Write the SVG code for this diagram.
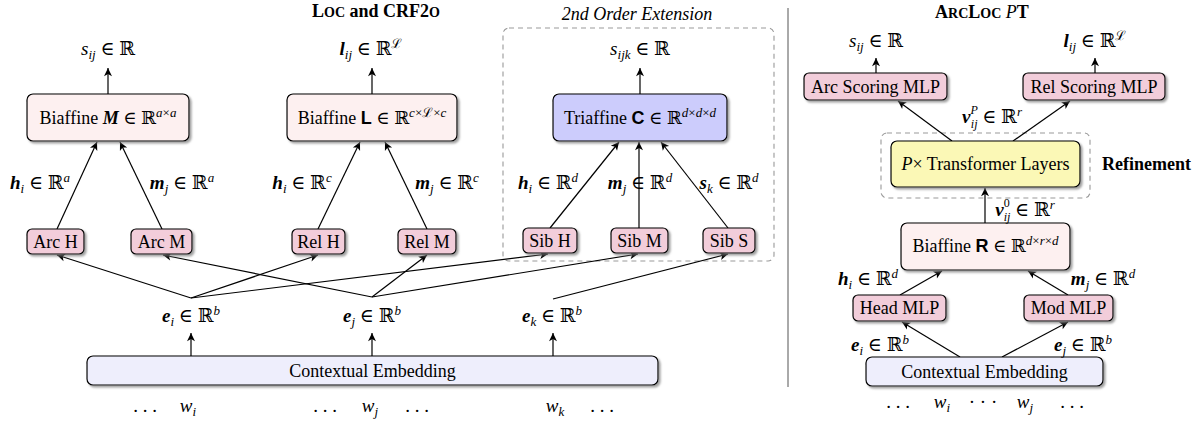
<svg xmlns="http://www.w3.org/2000/svg" width="1203" height="421" viewBox="0 0 1203 421">
<style>
text{font-family:"Liberation Serif","DejaVu Serif",serif;font-size:18px;fill:#000}
.m{font-size:19px}
.c{text-anchor:middle}
.bv{font-weight:bold;font-style:italic}
.it{font-style:italic}
.sb{font-size:13px}
.ss{font-size:12px}
.bs{font-family:"Liberation Sans","DejaVu Sans",sans-serif;font-weight:bold}
.ttl{font-weight:bold}
.box{stroke:#000;stroke-width:1.2;filter:url(#sh)}
.pk{fill:#f2cdda}
.lp{fill:#fdf0f0}
.bl{fill:#ccccfc}
.yl{fill:#fbf8b6}
.lv{fill:#eeeefc}
.dash{fill:none;stroke:#999;stroke-width:1.1;stroke-dasharray:5 4}
.ln{fill:none;stroke:#000;stroke-width:1.2}
.ar{marker-end:url(#ah)}
</style>
<defs>
<filter id="sh" x="-10%" y="-20%" width="125%" height="150%">
<feDropShadow dx="2" dy="2" stdDeviation="1" flood-color="#777" flood-opacity="0.7"/>
</filter>
<marker id="ah" markerWidth="10" markerHeight="10" viewBox="-7 -4 8 8" refX="0" refY="0" orient="auto" markerUnits="userSpaceOnUse">
<path d="M0,0 L-6.5,-3.2 L-4.8,0 L-6.5,3.2 Z" fill="#000"/>
</marker>
</defs>

<!-- titles -->
<text class="c ttl" x="376" y="17">L<tspan font-size="14">OC</tspan> and CRF2<tspan font-size="14">O</tspan></text>
<text class="c it" x="637" y="20">2nd Order Extension</text>
<text class="c ttl" x="982" y="18">A<tspan font-size="14">RC</tspan>L<tspan font-size="14">OC</tspan> <tspan class="it" font-weight="normal">P</tspan>T</text>
<line x1="788" y1="8" x2="788" y2="387" stroke="#555" stroke-width="1"/>

<!-- dashed groups -->
<rect class="dash" x="503" y="28" width="271" height="233" rx="6"/>
<rect class="dash" x="881" y="133" width="209" height="65" rx="6"/>

<!-- connectors -->
<g id="connectors">
<path class="ln ar" d="M108,94 L108,68"/>
<path class="ln ar" d="M372,94 L372,68"/>
<path class="ln ar" d="M640,94 L640,68"/>
<path class="ln ar" d="M57,229 L97,142"/>
<path class="ln ar" d="M162,229 L120,142"/>
<path class="ln ar" d="M318,229 L360,142"/>
<path class="ln ar" d="M427,229 L385,142"/>
<path class="ln ar" d="M550,228 L619,142"/>
<path class="ln ar" d="M639,228 L639,142"/>
<path class="ln ar" d="M728,228 L661,142"/>
<path class="ln ar" d="M191,298 L57,255"/>
<path class="ln ar" d="M191,298 L318,255"/>
<path class="ln ar" d="M191,298 L548,254"/>
<path class="ln ar" d="M372,297 L163,255"/>
<path class="ln ar" d="M372,297 L427,255"/>
<path class="ln ar" d="M372,297 L638,254"/>
<path class="ln ar" d="M553,299 L728,254"/>
<path class="ln ar" d="M191,356 L191,333"/>
<path class="ln ar" d="M372,356 L372,333"/>
<path class="ln ar" d="M553,356 L553,333"/>
<path class="ln ar" d="M876,73 L876,58"/>
<path class="ln ar" d="M1095,73 L1095,58"/>
<path class="ln ar" d="M952,141 L898,101"/>
<path class="ln ar" d="M1013,141 L1070,101"/>
<path class="ln ar" d="M985,223 L985,188"/>
<path class="ln ar" d="M900,295 L942,271"/>
<path class="ln ar" d="M1068,295 L1028,271"/>
<path class="ln ar" d="M960,357 L902,322"/>
<path class="ln ar" d="M1002,357 L1068,322"/>
</g>

<!-- nodes left -->
<g id="biaffM"><rect class="box lp" x="27" y="94" width="162" height="47" rx="6"/>
<text class="c" x="108" y="124">Biaffine <tspan class="bv">M</tspan> ∈ ℝ<tspan class="sb it" dy="-7">a</tspan><tspan class="sb">×</tspan><tspan class="sb it">a</tspan></text></g>
<g id="biaffL"><rect class="box lp" x="287" y="94" width="170" height="47" rx="6"/>
<text class="c" x="372" y="124">Biaffine <tspan class="bs">L</tspan> ∈ ℝ<tspan class="sb it" dy="-7">c</tspan><tspan class="sb">×ℒ×</tspan><tspan class="sb it">c</tspan></text></g>
<g id="triaff"><rect class="box bl" x="553" y="94" width="174" height="47" rx="6"/>
<text class="c" x="640" y="124">Triaffine <tspan class="bs">C</tspan> ∈ ℝ<tspan class="sb it" dy="-7">d</tspan><tspan class="sb">×</tspan><tspan class="sb it">d</tspan><tspan class="sb">×</tspan><tspan class="sb it">d</tspan></text></g>
<g id="arcH"><rect class="box pk" x="27" y="229" width="57" height="25" rx="5"/><text class="c" x="55.5" y="247.5">Arc H</text></g>
<g id="arcM"><rect class="box pk" x="131" y="229" width="61" height="25" rx="5"/><text class="c" x="161.5" y="247.5">Arc M</text></g>
<g id="relH"><rect class="box pk" x="292" y="229" width="53" height="25" rx="5"/><text class="c" x="318.5" y="247.5">Rel H</text></g>
<g id="relM"><rect class="box pk" x="398" y="229" width="58" height="25" rx="5"/><text class="c" x="427" y="247.5">Rel M</text></g>
<g id="sibH"><rect class="box pk" x="523" y="228" width="54" height="25" rx="5"/><text class="c" x="550" y="246.5">Sib H</text></g>
<g id="sibM"><rect class="box pk" x="611" y="228" width="57" height="25" rx="5"/><text class="c" x="639.5" y="246.5">Sib M</text></g>
<g id="sibS"><rect class="box pk" x="703" y="228" width="52" height="25" rx="5"/><text class="c" x="729" y="246.5">Sib S</text></g>
<g id="ctxL"><rect class="box lv" x="87" y="356" width="571" height="29" rx="6"/><text class="c" x="372.5" y="377">Contextual Embedding</text></g>

<!-- nodes right -->
<g id="arcMLP"><rect class="box pk" x="804" y="73" width="143" height="27" rx="5"/><text class="c" x="875.5" y="92.5">Arc Scoring MLP</text></g>
<g id="relMLP"><rect class="box pk" x="1023" y="73" width="142" height="27" rx="5"/><text class="c" x="1094" y="92.5">Rel Scoring MLP</text></g>
<g id="transf"><rect class="box yl" x="891" y="141" width="189" height="46" rx="6"/><text class="c" x="985.5" y="170"><tspan class="it">P</tspan>× Transformer Layers</text></g>
<g id="biaffR"><rect class="box lp" x="901" y="223" width="169" height="47" rx="6"/>
<text class="c" x="985.5" y="252">Biaffine <tspan class="bs">R</tspan> ∈ ℝ<tspan class="sb it" dy="-7">d</tspan><tspan class="sb">×</tspan><tspan class="sb it">r</tspan><tspan class="sb">×</tspan><tspan class="sb it">d</tspan></text></g>
<g id="headMLP"><rect class="box pk" x="853" y="295" width="93" height="26" rx="5"/><text class="c" x="899.5" y="314">Head MLP</text></g>
<g id="modMLP"><rect class="box pk" x="1024" y="295" width="89" height="26" rx="5"/><text class="c" x="1068.5" y="314">Mod MLP</text></g>
<g id="ctxR"><rect class="box lv" x="866" y="357" width="237" height="29" rx="6"/><text class="c" x="984.5" y="378">Contextual Embedding</text></g>

<!-- labels left -->
<text class="c m" x="108" y="55"><tspan class="it">s</tspan><tspan class="sb it" dy="4">ij</tspan><tspan dy="-4"> ∈ ℝ</tspan></text>
<text class="c m" x="371" y="55"><tspan class="bv">l</tspan><tspan class="sb it" dy="4">ij</tspan><tspan dy="-4"> ∈ ℝ</tspan><tspan class="sb" dy="-7">ℒ</tspan></text>
<text class="c m" x="640" y="55"><tspan class="it">s</tspan><tspan class="sb it" dy="4">ijk</tspan><tspan dy="-4"> ∈ ℝ</tspan></text>
<text class="c m" x="40" y="189"><tspan class="bv">h</tspan><tspan class="sb it" dy="4">i</tspan><tspan dy="-4"> ∈ ℝ</tspan><tspan class="sb it" dy="-7">a</tspan></text>
<text class="c m" x="182" y="189"><tspan class="bv">m</tspan><tspan class="sb it" dy="4">j</tspan><tspan dy="-4"> ∈ ℝ</tspan><tspan class="sb it" dy="-7">a</tspan></text>
<text class="c m" x="302" y="189"><tspan class="bv">h</tspan><tspan class="sb it" dy="4">i</tspan><tspan dy="-4"> ∈ ℝ</tspan><tspan class="sb it" dy="-7">c</tspan></text>
<text class="c m" x="447" y="189"><tspan class="bv">m</tspan><tspan class="sb it" dy="4">j</tspan><tspan dy="-4"> ∈ ℝ</tspan><tspan class="sb it" dy="-7">c</tspan></text>
<text class="c m" x="548" y="189"><tspan class="bv">h</tspan><tspan class="sb it" dy="4">i</tspan><tspan dy="-4"> ∈ ℝ</tspan><tspan class="sb it" dy="-7">d</tspan></text>
<text class="c m" x="640" y="189"><tspan class="bv">m</tspan><tspan class="sb it" dy="4">j</tspan><tspan dy="-4"> ∈ ℝ</tspan><tspan class="sb it" dy="-7">d</tspan></text>
<text class="c m" x="729" y="189"><tspan class="bv">s</tspan><tspan class="sb it" dy="4">k</tspan><tspan dy="-4"> ∈ ℝ</tspan><tspan class="sb it" dy="-7">d</tspan></text>
<text class="c m" x="191" y="322"><tspan class="bv">e</tspan><tspan class="sb it" dy="4">i</tspan><tspan dy="-4"> ∈ ℝ</tspan><tspan class="sb it" dy="-7">b</tspan></text>
<text class="c m" x="372" y="322"><tspan class="bv">e</tspan><tspan class="sb it" dy="4">j</tspan><tspan dy="-4"> ∈ ℝ</tspan><tspan class="sb it" dy="-7">b</tspan></text>
<text class="c m" x="552" y="322"><tspan class="bv">e</tspan><tspan class="sb it" dy="4">k</tspan><tspan dy="-4"> ∈ ℝ</tspan><tspan class="sb it" dy="-7">b</tspan></text>
<text class="c m" x="145" y="412">. . .</text>
<text class="c m" x="188" y="412"><tspan class="it">w</tspan><tspan class="sb it" dy="4">i</tspan></text>
<text class="c m" x="325" y="412">. . .</text>
<text class="c m" x="370" y="412"><tspan class="it">w</tspan><tspan class="sb it" dy="4">j</tspan></text>
<text class="c m" x="417" y="412">. . .</text>
<text class="c m" x="555" y="412"><tspan class="it">w</tspan><tspan class="sb it" dy="4">k</tspan></text>
<text class="c m" x="602" y="412">. . .</text>

<!-- labels right -->
<text class="c m" x="876" y="47"><tspan class="it">s</tspan><tspan class="sb it" dy="4">ij</tspan><tspan dy="-4"> ∈ ℝ</tspan></text>
<text class="c m" x="1095" y="47"><tspan class="bv">l</tspan><tspan class="sb it" dy="4">ij</tspan><tspan dy="-4"> ∈ ℝ</tspan><tspan class="sb" dy="-7">ℒ</tspan></text>
<text class="c m" x="992" y="123"><tspan class="bv">v</tspan><tspan class="ss it" dy="-9">P</tspan><tspan class="ss it" dx="-7" dy="14">ij</tspan><tspan dy="-5"> ∈ ℝ</tspan><tspan class="sb it" dy="-7">r</tspan></text>
<text class="c m" x="1025" y="216"><tspan class="bv">v</tspan><tspan class="ss" dy="-9">0</tspan><tspan class="ss it" dx="-6" dy="14">ij</tspan><tspan dy="-5"> ∈ ℝ</tspan><tspan class="sb it" dy="-7">r</tspan></text>
<text class="ttl" x="1102" y="170">Refinement</text>
<text class="c m" x="868" y="285"><tspan class="bv">h</tspan><tspan class="sb it" dy="4">i</tspan><tspan dy="-4"> ∈ ℝ</tspan><tspan class="sb it" dy="-7">d</tspan></text>
<text class="c m" x="1103" y="285"><tspan class="bv">m</tspan><tspan class="sb it" dy="4">j</tspan><tspan dy="-4"> ∈ ℝ</tspan><tspan class="sb it" dy="-7">d</tspan></text>
<text class="c m" x="880" y="351"><tspan class="bv">e</tspan><tspan class="sb it" dy="4">i</tspan><tspan dy="-4"> ∈ ℝ</tspan><tspan class="sb it" dy="-7">b</tspan></text>
<text class="c m" x="1083" y="351"><tspan class="bv">e</tspan><tspan class="sb it" dy="4">j</tspan><tspan dy="-4"> ∈ ℝ</tspan><tspan class="sb it" dy="-7">b</tspan></text>
<text class="c m" x="898" y="408">. . .</text>
<text class="c m" x="942" y="408"><tspan class="it">w</tspan><tspan class="sb it" dy="4">i</tspan></text>
<text class="c m" x="983" y="408">· · ·</text>
<text class="c m" x="1025" y="408"><tspan class="it">w</tspan><tspan class="sb it" dy="4">j</tspan></text>
<text class="c m" x="1072" y="408">. . .</text>
</svg>
